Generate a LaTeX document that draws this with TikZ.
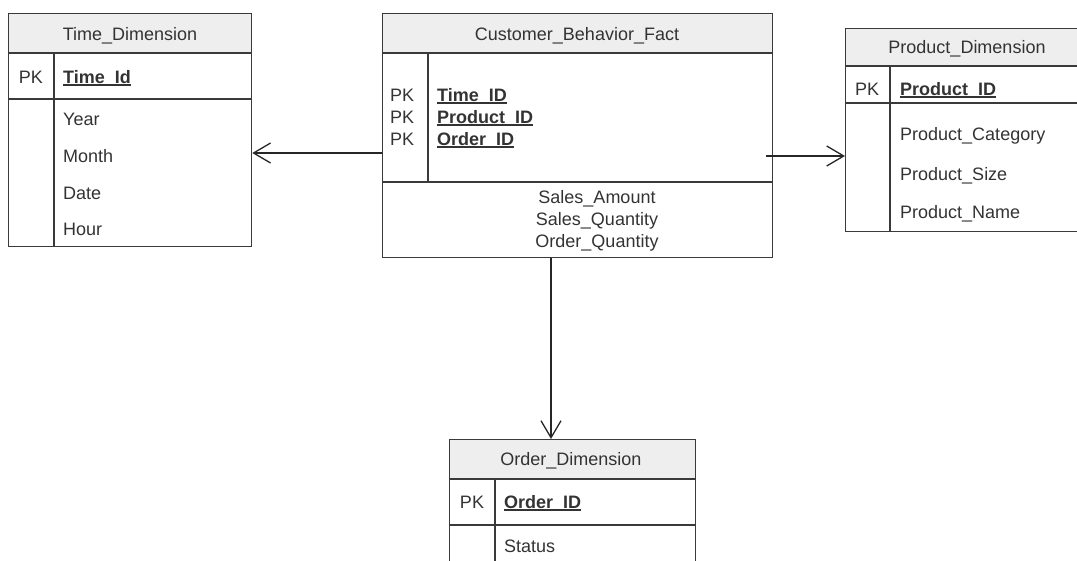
\documentclass[tikz,border=0pt]{standalone}
\usepackage{fontspec}
\setmainfont{Liberation Sans}
\usetikzlibrary{arrows.meta}
\definecolor{ink}{HTML}{333333}
\definecolor{edge}{HTML}{3A3A3A}
\definecolor{headfill}{HTML}{EEEEEE}
% bold, underlined primary-key field name
\newcommand\pkfield[1]{\setbox0\hbox{\bfseries #1}\rlap{\color{ink}\rule[-2.6pt]{\wd0}{1.4pt}}\box0}

\begin{document}
\begin{tikzpicture}[x=1pt,y=-1pt,
  font=\fontsize{18}{22}\selectfont,
  tablebox/.style={draw=edge, line width=1.3pt, inner sep=0pt, anchor=north west},
  rule/.style={draw=edge, line width=1.3pt},
  head/.style={fill=headfill},
  txt/.style={text=ink, inner sep=0pt, anchor=base west},
  ctxt/.style={text=ink, inner sep=0pt, anchor=base},
  link/.style={draw=black!85, line width=1.3pt,
    -{Straight Barb[length=17pt,width=20pt,line width=1.3pt]}}
]
\useasboundingbox (0,0) rectangle (1077,560);
\clip (0,0) rectangle (1077,560);

% ---------------- Time_Dimension ----------------
\fill[head] (8,13) rectangle (251,53);
\node[tablebox, minimum width=243pt, minimum height=233pt] (time) at (8,13) {};
\draw[rule] (8,53) -- (251,53);
\draw[rule] (8,99) -- (251,99);
\draw[rule] (54,53) -- (54,246);
\node[ctxt] (time-title) at (130,40) {Time\_Dimension};
\node[ctxt] (time-pk) at (31,83) {PK};
\node[txt] (time-key) at (63,83) {\pkfield{Time\_Id}};
\node[txt] (time-year) at (63,125) {Year};
\node[txt] (time-month) at (63,162) {Month};
\node[txt] (time-date) at (63,199) {Date};
\node[txt] (time-hour) at (63,235) {Hour};

% ---------------- Customer_Behavior_Fact ----------------
\fill[head] (382,13) rectangle (772,53);
\node[tablebox, minimum width=390pt, minimum height=244pt] (fact) at (382,13) {};
\draw[rule] (382,53) -- (772,53);
\draw[rule] (382,182) -- (772,182);
\draw[rule] (428,53) -- (428,182);
\node[ctxt] (fact-title) at (577,40) {Customer\_Behavior\_Fact};
\node[txt] (fact-pk1) at (390,101) {PK};
\node[txt] (fact-pk2) at (390,123) {PK};
\node[txt] (fact-pk3) at (390,145) {PK};
\node[txt] (fact-key1) at (437,101) {\pkfield{Time\_ID}};
\node[txt] (fact-key2) at (437,123) {\pkfield{Product\_ID}};
\node[txt] (fact-key3) at (437,145) {\pkfield{Order\_ID}};
\node[ctxt] (fact-amount) at (597,203) {Sales\_Amount};
\node[ctxt] (fact-squant) at (597,225) {Sales\_Quantity};
\node[ctxt] (fact-oquant) at (597,247) {Order\_Quantity};

% ---------------- Product_Dimension ----------------
\fill[head] (845,28) rectangle (1090,66);
\node[tablebox, minimum width=245pt, minimum height=203pt] (product) at (845,28) {};
\draw[rule] (845,66) -- (1090,66);
\draw[rule] (845,103) -- (1090,103);
\draw[rule] (890,66) -- (890,231);
\node[ctxt] (product-title) at (967,53) {Product\_Dimension};
\node[ctxt] (product-pk) at (867,95) {PK};
\node[txt] (product-key) at (900,95) {\pkfield{Product\_ID}};
\node[txt] (product-cat) at (900,140) {Product\_Category};
\node[txt] (product-size) at (900,180) {Product\_Size};
\node[txt] (product-name) at (900,218) {Product\_Name};

% ---------------- Order_Dimension ----------------
\fill[head] (449,439) rectangle (695,479);
\node[tablebox, minimum width=246pt, minimum height=150pt] (order) at (449,439) {};
\draw[rule] (449,479) -- (695,479);
\draw[rule] (449,525) -- (695,525);
\draw[rule] (495,479) -- (495,589);
\node[ctxt] (order-title) at (571,465) {Order\_Dimension};
\node[ctxt] (order-pk) at (472,508) {PK};
\node[txt] (order-key) at (504,508) {\pkfield{Order\_ID}};
\node[txt] (order-status) at (504,552) {Status};

% ---------------- relationships ----------------
\coordinate (tlink) at (0,153);
\coordinate (plink) at (766,156);
\coordinate (olink) at (551,0);
\draw[link] (fact.west |- tlink) -- (time.east |- tlink);
\draw[link] (plink) -- (product.west |- plink);
\draw[link] (fact.south -| olink) -- (order.north -| olink);
\end{tikzpicture}
\end{document}
